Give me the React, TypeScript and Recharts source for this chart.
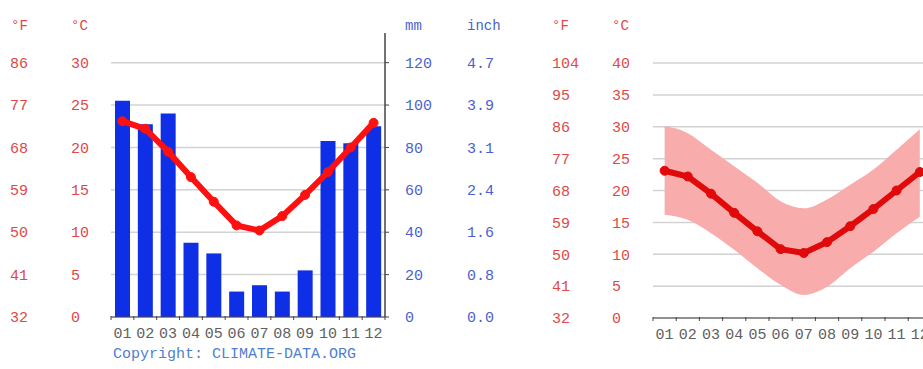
import React from "react"
import { ComposedChart, Bar, Line, Area, XAxis, YAxis, CartesianGrid } from "recharts"

const MONTHS = ["01", "02", "03", "04", "05", "06", "07", "08", "09", "10", "11", "12"]
const PRECIP_MM = [102, 91, 96, 35, 30, 12, 15, 12, 22, 83, 82, 90]
const TEMP_AVG = [23.1, 22.2, 19.5, 16.5, 13.6, 10.8, 10.2, 11.9, 14.4, 17.1, 20.0, 22.9]
const TEMP_MIN = [16.2, 15.4, 13.3, 10.7, 7.8, 5.2, 3.6, 4.9, 7.8, 10.4, 13.3, 15.9]
const TEMP_MAX = [30.1, 29.0, 26.4, 23.8, 21.2, 18.3, 17.2, 18.6, 20.9, 23.3, 26.4, 29.6]

const CLIMATE_C_TICKS = [0, 5, 10, 15, 20, 25, 30]
const MM_TICKS = [0, 20, 40, 60, 80, 100, 120]
const RANGE_C_TICKS = [0, 5, 10, 15, 20, 25, 30, 35, 40]

const MONO = '"Liberation Mono", "DejaVu Sans Mono", monospace'
const RED_TEXT = "#e04848"
const BLUE_TEXT = "#4a5fd0"
const GRAY_TEXT = "#606060"
const AXIS = "#444"
const GRID = "#d2d2d2"

const toF = (c: number) => String(Math.round(c * 1.8 + 32))
const toInch = (mm: number) => (mm / 25.4).toFixed(1)

const climateRows = MONTHS.map((m, i) => ({ month: m, mm: PRECIP_MM[i], temp: TEMP_AVG[i] }))
const rangeRows = MONTHS.map((m, i) => ({ month: m, temp: TEMP_AVG[i], range: [TEMP_MIN[i], TEMP_MAX[i]] }))

// y tick labels are left aligned inside their axis strip
const sideTick = (offset: number, color: string, fmt: (v: number) => string) => (props: any) => (
  <text x={props.x + offset} y={props.y} dy="0.35em" textAnchor="start" fill={color} fontSize={15} fontFamily={MONO}>
    {fmt(props.payload.value)}
  </text>
)

// month label plus small tick marks on the slot edges
const monthTick = (fallbackHalf: number) => (props: any) => {
  const { x, y, payload, index, visibleTicksCount } = props
  const half = payload.offset || fallbackHalf
  return (
    <g>
      <line x1={x - half} x2={x - half} y1={y - 1} y2={y + 3} stroke={AXIS} />
      {index === visibleTicksCount - 1 && <line x1={x + half} x2={x + half} y1={y - 1} y2={y + 3} stroke={AXIS} />}
      <text x={x} y={y + 21} textAnchor="middle" fill={GRAY_TEXT} fontSize={15} fontFamily={MONO}>
        {payload.value}
      </text>
    </g>
  )
}

const header = (left: number, text: string, color: string) => (
  <div style={{ position: "absolute", left, top: 19, fontFamily: MONO, fontSize: 14, lineHeight: "15px", color }}>{text}</div>
)

function ClimateChart() {
  return (
    <div style={{ position: "absolute", left: 0, top: 0, width: 530, height: 369 }}>
      <ComposedChart width={530} height={369} data={climateRows} margin={{ top: 33, right: 13, bottom: 22, left: 0 }}>
        <CartesianGrid yAxisId="a_mm" vertical={false} syncWithTicks stroke={GRID} strokeWidth={1.5} />
        <XAxis dataKey="month" height={30} axisLine={{ stroke: AXIS }} tickLine={false} tickSize={0} tickMargin={0} tick={monthTick(11.4)} interval={0} />
        <YAxis yAxisId="c" orientation="left" width={50} type="number" domain={[0, 33.5]} allowDataOverflow ticks={CLIMATE_C_TICKS}
          axisLine={false} tickLine={false} tickSize={0} tickMargin={0} tick={sideTick(-40, RED_TEXT, (v) => String(v))} />
        <YAxis yAxisId="f" orientation="left" width={61} type="number" domain={[0, 33.5]} allowDataOverflow ticks={CLIMATE_C_TICKS}
          axisLine={false} tickLine={false} tickSize={0} tickMargin={0} tick={sideTick(-51, RED_TEXT, toF)} />
        <YAxis yAxisId="a_mm" orientation="right" width={82} type="number" domain={[0, 134]} allowDataOverflow ticks={MM_TICKS}
          axisLine={{ stroke: AXIS, strokeWidth: 1.5 }} tickLine={{ stroke: AXIS }} tickSize={4} tickMargin={16} tick={sideTick(0, BLUE_TEXT, (v) => String(v))} />
        <YAxis yAxisId="b_in" orientation="right" width={50} type="number" domain={[0, 134]} allowDataOverflow ticks={MM_TICKS}
          axisLine={false} tickLine={false} tickSize={0} tickMargin={0} tick={sideTick(0, BLUE_TEXT, toInch)} />
        <Bar yAxisId="a_mm" dataKey="mm" fill="#0f2fe6" barSize={15} isAnimationActive={false} />
        <Line yAxisId="c" dataKey="temp" type="linear" stroke="#ff1010" strokeWidth={6}
          dot={{ r: 4.5, fill: "#ff1010", stroke: "#ff1010", strokeWidth: 1 }} isAnimationActive={false} />
      </ComposedChart>
      {header(11, "°F", RED_TEXT)}
      {header(71, "°C", RED_TEXT)}
      {header(405, "mm", BLUE_TEXT)}
      {header(467, "inch", BLUE_TEXT)}
      <div style={{ position: "absolute", left: 113, top: 347, fontFamily: MONO, fontSize: 15, lineHeight: "15px", color: "#4f7fd0" }}>
        Copyright: CLIMATE-DATA.ORG
      </div>
    </div>
  )
}

function TemperatureChart() {
  return (
    <div style={{ position: "absolute", left: 530, top: 0, width: 420, height: 369 }}>
      <ComposedChart width={420} height={369} data={rangeRows} margin={{ top: 63, right: 18.6, bottom: 21, left: 0 }}>
        <CartesianGrid yAxisId="c" vertical={false} syncWithTicks stroke={GRID} strokeWidth={1.5} />
        <XAxis dataKey="month" scale="band" height={30} axisLine={{ stroke: AXIS }} tickLine={false} tickSize={0} tickMargin={0} tick={monthTick(11.6)} interval={0} />
        <YAxis yAxisId="c" orientation="left" width={41} type="number" domain={[0, 40]} allowDataOverflow ticks={RANGE_C_TICKS}
          axisLine={false} tickLine={false} tickSize={0} tickMargin={0} tick={sideTick(-41, RED_TEXT, (v) => String(v))} />
        <YAxis yAxisId="f" orientation="left" width={82} type="number" domain={[0, 40]} allowDataOverflow ticks={RANGE_C_TICKS}
          axisLine={false} tickLine={false} tickSize={0} tickMargin={0} tick={sideTick(-60, RED_TEXT, toF)} />
        <Area yAxisId="c" dataKey="range" type="monotone" stroke="none" fill="#f8acac" fillOpacity={1} isAnimationActive={false} />
        <Line yAxisId="c" dataKey="temp" type="linear" stroke="#e00a0a" strokeWidth={6}
          dot={{ r: 4.5, fill: "#e00a0a", stroke: "#e00a0a", strokeWidth: 1 }} isAnimationActive={false} />
      </ComposedChart>
      {header(22, "°F", RED_TEXT)}
      {header(82, "°C", RED_TEXT)}
    </div>
  )
}

export default function App() {
  return (
    <div style={{ position: "absolute", left: 0, top: 0, width: 923, height: 369, overflow: "hidden", background: "#fff" }}>
      <ClimateChart />
      <TemperatureChart />
    </div>
  )
}
